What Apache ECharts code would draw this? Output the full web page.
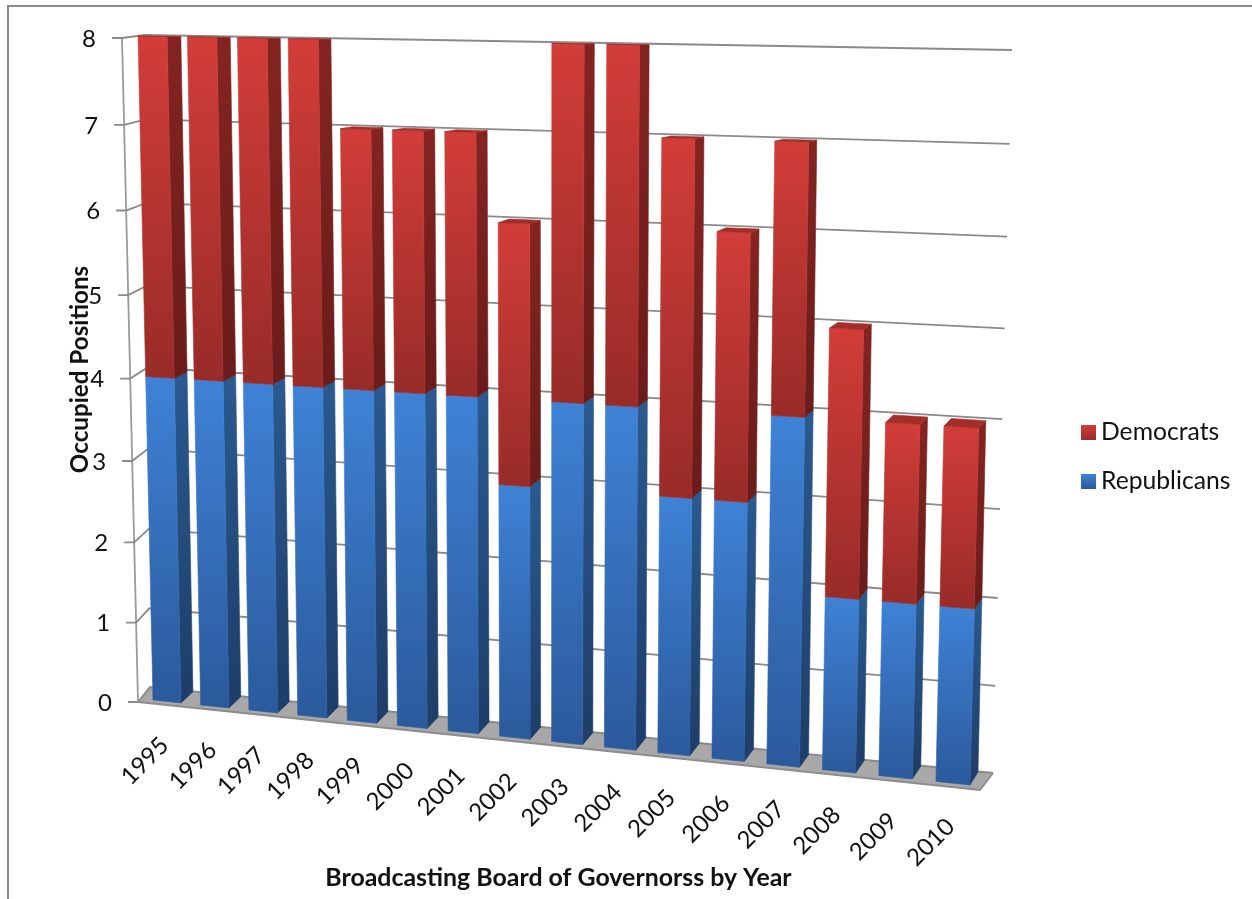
<!DOCTYPE html>
<html>
<head>
<meta charset="utf-8">
<script src="https://cdn.jsdelivr.net/npm/echarts@6/dist/echarts.min.js"></script>
<style>html,body{margin:0;padding:0;background:#fff}#c{width:1252px;height:899px;filter:blur(0.5px)}</style>
</head>
<body>
<div id="c"></div>
<script>
var categories = ['1995','1996','1997','1998','1999','2000','2001','2002','2003','2004','2005','2006','2007','2008','2009','2010'];
var republicans = [4,4,4,4,4,4,4,3,4,4,3,3,4,2,2,2];
var democrats   = [4,4,4,4,3,3,3,3,4,4,4,3,3,3,2,2];
var tickValues  = [0,1,2,3,4,5,6,7,8];

var BAR_W = 0.59;
var G = {left:137, top:37, width:843, height:665};
var FONT = 'Lato, "Open Sans", sans-serif';

function makeH(q){
  var x00=q[0][0],y00=q[0][1],x10=q[1][0],y10=q[1][1],x01=q[2][0],y01=q[2][1],x11=q[3][0],y11=q[3][1];
  var dx1=x10-x11,dx2=x01-x11,sx=x00-x10+x11-x01,dy1=y10-y11,dy2=y01-y11,sy=y00-y10+y11-y01;
  var den=dx1*dy2-dx2*dy1;
  var g=(sx*dy2-dx2*sy)/den,h=(dx1*sy-sx*dy1)/den;
  var a=x10-x00+g*x10,b=x01-x00+h*x01,d=y10-y00+g*y10,e=y01-y00+h*y01;
  return function(s,t){var w=g*s+h*t+1;return [(a*s+b*t+x00)/w,(d*s+e*t+y00)/w];};
}
var barFront = makeH([[153,700],[970,785],[138,36],[988,51]]);
var barBack  = makeH([[165,689],[978,772],[152,36],[994,51]]);
var wallBack = makeH([[150,687],[993,773],[145,35],[1012,50]]);
var wallFront= makeH([[138,702],[980,790],[122,38],[998,58]]);

function vFrac(api,v){var p=api.coord([0,v]);var t=(G.top+G.height-p[1])/G.height;return t-0.014*t*(1-t);}
function uPos(api,i){var p=api.coord([i,0]);return (p[0]-G.left)/G.width*categories.length-0.5;}
var uMax = categories.length-1+BAR_W;

function grad(stops){
  return new echarts.graphic.LinearGradient(0,0,0,1,[{offset:0,color:stops[0]},{offset:1,color:stops[1]}]);
}
var RED={front:['#d23d39','#982b28'],side:['#842421','#6a1c1a'],top:'#a42d29'};
var BLUE={front:['#3f82d6','#2b5a9c'],side:['#2a5a90','#1e3d68'],top:'#2f64a8'};

function poly(pts,fill){
  return {type:'polygon',shape:{points:pts},style:{fill:fill,stroke:fill,lineWidth:0.6}};
}
function barRender(pal,showTop){
  return function(params,api){
    var i=api.value(0),a=vFrac(api,api.value(1)),b=vFrac(api,api.value(2));
    var u=uPos(api,i),s0=u/uMax,s1=(u+BAR_W)/uMax;
    var fl0=barFront(s0,a),fr0=barFront(s1,a),fl1=barFront(s0,b),fr1=barFront(s1,b);
    var br0=barBack(s1,a),br1=barBack(s1,b),bl1=barBack(s0,b);
    var ch=[poly([fr0,br0,br1,fr1],grad(pal.side)),poly([fl0,fr0,fr1,fl1],grad(pal.front))];
    if(showTop){ch.push(poly([fl1,fr1,br1,bl1],pal.top));}
    return {type:'group',children:ch};
  };
}
function gridRender(params,api){
  var v=api.value(0),t=vFrac(api,v);
  var f=wallFront(0,t),b=wallBack(0,t),r=wallBack(1,t);
  var ch=[{type:'polyline',shape:{points:[[f[0]-10,f[1]],f,b,r]},style:{stroke:'#8a8a8a',lineWidth:1.8,fill:null}},
    {type:'text',x:f[0]-33,y:f[1]+1,style:{text:String(v),fill:'#111',font:'24px '+FONT,textAlign:'center',textVerticalAlign:'middle'}}];
  return {type:'group',children:ch};
}
function floorRender(params,api){
  var t0=vFrac(api,0),t1=vFrac(api,8);
  var a=wallFront(0,t0),b=wallFront(1,t0),c=wallBack(1,t0),d=wallBack(0,t0);
  return {type:'group',children:[
    {type:'polygon',shape:{points:[a,b,c,d]},style:{fill:'#a8a8a8'}},
    {type:'polyline',shape:{points:[a,b,c]},style:{stroke:'#8c8c8c',lineWidth:1.8,fill:null}},
    {type:'line',shape:{x1:wallFront(0,t0)[0],y1:wallFront(0,t0)[1],x2:wallFront(0,t1)[0],y2:wallFront(0,t1)[1]},style:{stroke:'#9a9a9a',lineWidth:1.8}}
  ]};
}
function labelRender(params,api){
  var i=api.value(0),u=uPos(api,i),p=barFront(u/uMax,vFrac(api,0));
  return {type:'text',x:p[0]-8+3*u/uMax,y:p[1]+61,rotation:Math.PI/4,
    style:{text:categories[i],fill:'#111',font:'24px '+FONT,textAlign:'center',textVerticalAlign:'middle'}};
}

var chart=echarts.init(document.getElementById('c'),null,{renderer:'canvas'});
chart.setOption({
  animation:false,
  backgroundColor:'#fff',
  grid:{left:G.left,top:G.top,width:G.width,height:G.height},
  xAxis:{type:'category',data:categories,name:'Broadcasting Board of Governorss by Year',nameLocation:'middle',nameGap:163,
    nameTextStyle:{fontFamily:FONT,fontWeight:'bold',fontSize:24.9,color:'#111'},
    axisLine:{show:false},axisTick:{show:false},axisLabel:{show:false},splitLine:{show:false}},
  yAxis:{type:'value',min:0,max:8,interval:1,name:'Occupied Positions',nameLocation:'middle',nameGap:45,nameRotate:90,
    nameTextStyle:{fontFamily:FONT,fontWeight:'bold',fontSize:24.2,color:'#111'},
    axisLine:{show:false},axisTick:{show:false},axisLabel:{show:false},splitLine:{show:false}},
  legend:{data:['Democrats','Republicans'],orient:'vertical',left:1076,top:415,itemWidth:15,itemHeight:15,itemGap:24,
    icon:'rect',textStyle:{fontFamily:FONT,fontSize:24.7,lineHeight:24,color:'#111'},selectedMode:false},
  graphic:[{type:'polyline',silent:true,shape:{points:[[8,899],[8,6],[1252,6]]},style:{stroke:'#8a8a8a',lineWidth:2,fill:null}}],
  series:[
    {name:'floor',type:'custom',coordinateSystem:'cartesian2d',data:[[0]],renderItem:floorRender,z:1,silent:true},
    {name:'gridlines',type:'custom',coordinateSystem:'cartesian2d',data:tickValues.map(function(v){return [v];}),renderItem:gridRender,z:2,silent:true,encode:{y:0}},
    {name:'Republicans',type:'custom',coordinateSystem:'cartesian2d',itemStyle:{color:grad(BLUE.front)},
      data:categories.map(function(c,i){return [i,0,republicans[i]];}),renderItem:barRender(BLUE,false),encode:{x:0,y:[1,2]},z:3},
    {name:'Democrats',type:'custom',coordinateSystem:'cartesian2d',itemStyle:{color:grad(RED.front)},
      data:categories.map(function(c,i){return [i,republicans[i],republicans[i]+democrats[i]];}),renderItem:barRender(RED,true),encode:{x:0,y:[1,2]},z:4},
    {name:'yearLabels',type:'custom',coordinateSystem:'cartesian2d',data:categories.map(function(c,i){return [i];}),renderItem:labelRender,encode:{x:0},z:5,silent:true}
  ]
});
</script>
</body>
</html>
